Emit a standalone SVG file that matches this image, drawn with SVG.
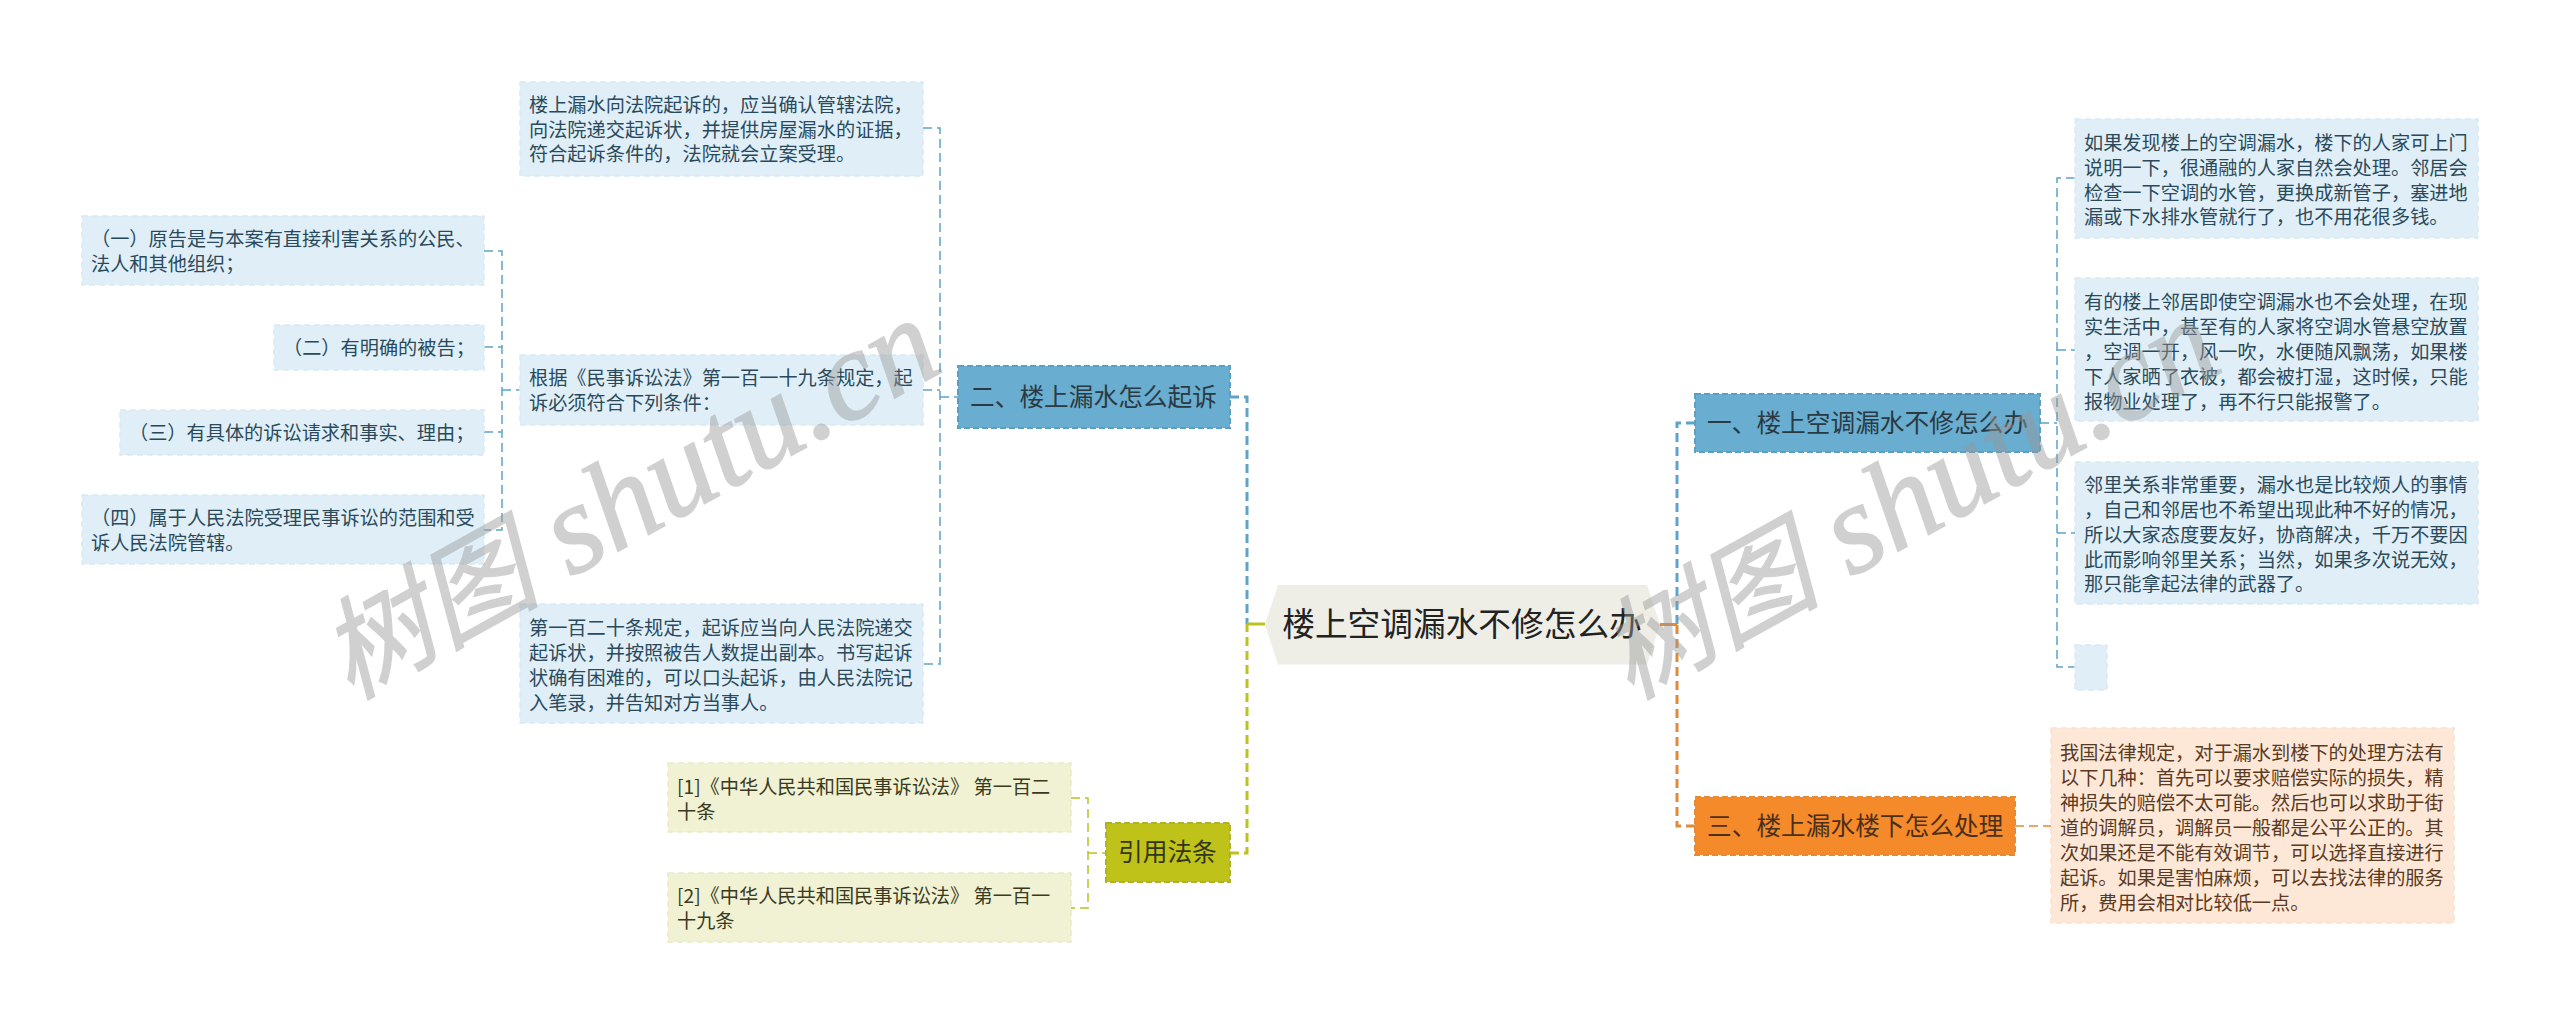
<svg xmlns="http://www.w3.org/2000/svg" width="2560" height="1024" viewBox="0 0 2560 1024">
<style>
text{font-family:"Noto Sans CJK SC","Noto Sans",sans-serif}
.lf{font-size:19.2px}
.b .lf{fill:#2a4a5c}
.y .lf{fill:#3a3a22}
.o .lf{fill:#5a3a22}
.b rect{fill:#e0eff7;stroke:#d8eaf4;stroke-width:1.5;stroke-dasharray:6 4}
.y rect{fill:#f0f2d3;stroke:#e9ecc6;stroke-width:1.5;stroke-dasharray:6 4}
.o rect{fill:#fde8d8;stroke:#fbe0cc;stroke-width:1.5;stroke-dasharray:6 4}
.mn{font-size:24.7px;fill:#2b3a42}
.c{fill:none;stroke-dasharray:9 5}
.t{stroke-width:1.5}
.m{stroke-width:3}
.bl{stroke:#5fa3c8}
.ol{stroke:#bcc21f}
.or{stroke:#e08a3a}
.wm{fill:#999;stroke:#999;stroke-width:1.500;opacity:.45;font-style:italic}
.wc{font-size:110px;font-weight:400}
.wl{font-size:128px;font-family:"Liberation Serif",serif}
</style>
<rect width="2560" height="1024" fill="#fff"/>
<g id="connectors">
<path class="c t bl" d="M484 251H502V530H484M484 347H502M484 432H502M502 390H520"/>
<path class="c t bl" d="M923 128H940V664H923M923 390H940M940 397H958"/>
<path class="c t ol" d="M1071 798H1088V908H1071M1088 853H1106"/>
<path class="c t bl" d="M2040 423H2057M2075 178H2057V667H2075M2057 350H2075M2057 533H2075"/>
<path class="c m or" style="stroke-width:1.5" d="M2015 826H2051"/>
<path class="c m bl" d="M1230 397H1247V624"/>
<path class="c m ol" d="M1230 853H1247V624"/>
<path d="M1247 624H1265" stroke="#bcc21f" stroke-width="3" fill="none"/>
<path class="c m bl" d="M1695 423H1677V624"/>
<path class="c m or" d="M1695 826H1677V624"/>
<path d="M1660 624.500H1677" stroke="#e08a3a" stroke-width="3" fill="none"/>
</g>
<g id="root">
<polygon points="1265,624.500 1278,585 1647,585 1660,624.500 1647,664.500 1278,664.500" fill="#eeeee6"/>
<text x="1462" y="636" font-size="32.700" text-anchor="middle" fill="#222">楼上空调漏水不修怎么办</text>
</g>
<g id="n-er">
<rect x="958" y="366" width="272" height="62" fill="#69add1" stroke="#5a9fc4" stroke-width="2" stroke-dasharray="6 3"/>
<text class="mn" x="970" y="406">二、楼上漏水怎么起诉</text>
</g>
<g id="n-yi">
<rect x="1695" y="394" width="345" height="58" fill="#69add1" stroke="#5a9fc4" stroke-width="2" stroke-dasharray="6 3"/>
<text class="mn" x="1707" y="432">一、楼上空调漏水不修怎么办</text>
</g>
<g id="n-san">
<rect x="1695" y="797" width="320" height="58" fill="#f58a2b" stroke="#e68a3a" stroke-width="2" stroke-dasharray="6 3"/>
<text class="mn" x="1707" y="835" style="fill:#4a2f1a">三、楼上漏水楼下怎么处理</text>
</g>
<g id="n-yin">
<rect x="1106" y="823" width="124" height="59" fill="#bec219" stroke="#aeb226" stroke-width="2" stroke-dasharray="6 3"/>
<text class="mn" x="1118" y="861" style="fill:#33361a">引用法条</text>
</g>
<g id="l1" class="b"><rect x="520" y="82" width="403" height="94"/><text class="lf"><tspan x="529" y="112">楼上漏水向法院起诉的，应当确认管辖法院，</tspan><tspan x="529" y="137">向法院递交起诉状，并提供房屋漏水的证据，</tspan><tspan x="529" y="161">符合起诉条件的，法院就会立案受理。</tspan></text></g>
<g id="l2" class="b"><rect x="520" y="355" width="403" height="70"/><text class="lf"><tspan x="529" y="385">根据《民事诉讼法》第一百一十九条规定，起</tspan><tspan x="529" y="410">诉必须符合下列条件：</tspan></text></g>
<g id="l3" class="b"><rect x="520" y="604" width="403" height="119"/><text class="lf"><tspan x="529" y="635">第一百二十条规定，起诉应当向人民法院递交</tspan><tspan x="529" y="660">起诉状，并按照被告人数提出副本。书写起诉</tspan><tspan x="529" y="685">状确有困难的，可以口头起诉，由人民法院记</tspan><tspan x="529" y="710">入笔录，并告知对方当事人。</tspan></text></g>
<g id="l4" class="b"><rect x="82" y="216" width="402" height="69"/><text class="lf"><tspan x="91" y="246">（一）原告是与本案有直接利害关系的公民、</tspan><tspan x="91" y="271">法人和其他组织；</tspan></text></g>
<g id="l5" class="b"><rect x="274" y="325" width="210" height="45"/><text class="lf"><tspan x="283" y="355">（二）有明确的被告；</tspan></text></g>
<g id="l6" class="b"><rect x="120" y="410" width="364" height="45"/><text class="lf"><tspan x="129" y="440">（三）有具体的诉讼请求和事实、理由；</tspan></text></g>
<g id="l7" class="b"><rect x="82" y="495" width="402" height="69"/><text class="lf"><tspan x="91" y="525">（四）属于人民法院受理民事诉讼的范围和受</tspan><tspan x="91" y="550">诉人民法院管辖。</tspan></text></g>
<g id="l8" class="y"><rect x="668" y="763" width="403" height="69"/><text class="lf"><tspan x="677" y="794">[1]《中华人民共和国民事诉讼法》 第一百二</tspan><tspan x="677" y="819">十条</tspan></text></g>
<g id="l9" class="y"><rect x="668" y="873" width="403" height="69"/><text class="lf"><tspan x="677" y="903">[2]《中华人民共和国民事诉讼法》 第一百一</tspan><tspan x="677" y="928">十九条</tspan></text></g>
<g id="l10" class="b"><rect x="2075" y="119" width="403" height="119"/><text class="lf"><tspan x="2084" y="150">如果发现楼上的空调漏水，楼下的人家可上门</tspan><tspan x="2084" y="175">说明一下，很通融的人家自然会处理。邻居会</tspan><tspan x="2084" y="200">检查一下空调的水管，更换成新管子，塞进地</tspan><tspan x="2084" y="224">漏或下水排水管就行了，也不用花很多钱。</tspan></text></g>
<g id="l11" class="b"><rect x="2075" y="278" width="403" height="143"/><text class="lf"><tspan x="2084" y="309">有的楼上邻居即使空调漏水也不会处理，在现</tspan><tspan x="2084" y="334">实生活中，甚至有的人家将空调水管悬空放置</tspan><tspan x="2084" y="359">，空调一开，风一吹，水便随风飘荡，如果楼</tspan><tspan x="2084" y="384">下人家晒了衣被，都会被打湿，这时候，只能</tspan><tspan x="2084" y="409">报物业处理了，再不行只能报警了。</tspan></text></g>
<g id="l12" class="b"><rect x="2075" y="462" width="403" height="142"/><text class="lf"><tspan x="2084" y="492">邻里关系非常重要，漏水也是比较烦人的事情</tspan><tspan x="2084" y="517">，自己和邻居也不希望出现此种不好的情况，</tspan><tspan x="2084" y="542">所以大家态度要友好，协商解决，千万不要因</tspan><tspan x="2084" y="567">此而影响邻里关系；当然，如果多次说无效，</tspan><tspan x="2084" y="591">那只能拿起法律的武器了。</tspan></text></g>
<g id="l13" class="b"><rect x="2075" y="645" width="32" height="45"/></g>
<g id="l14" class="o"><rect x="2051" y="728" width="403" height="195"/><text class="lf"><tspan x="2060" y="760">我国法律规定，对于漏水到楼下的处理方法有</tspan><tspan x="2060" y="785">以下几种：首先可以要求赔偿实际的损失，精</tspan><tspan x="2060" y="810">神损失的赔偿不太可能。然后也可以求助于街</tspan><tspan x="2060" y="835">道的调解员，调解员一般都是公平公正的。其</tspan><tspan x="2060" y="860">次如果还是不能有效调节，可以选择直接进行</tspan><tspan x="2060" y="885">起诉。如果是害怕麻烦，可以去找法律的服务</tspan><tspan x="2060" y="910">所，费用会相对比较低一点。</tspan></text></g>
<g id="watermarks">
<text class="wm" transform="translate(350 700) rotate(-29)"><tspan class="wc">树图</tspan><tspan class="wl"> shutu.cn</tspan></text>
<text class="wm" transform="translate(1630 700) rotate(-29)"><tspan class="wc">树图</tspan><tspan class="wl"> shutu.cn</tspan></text>
</g>
</svg>
